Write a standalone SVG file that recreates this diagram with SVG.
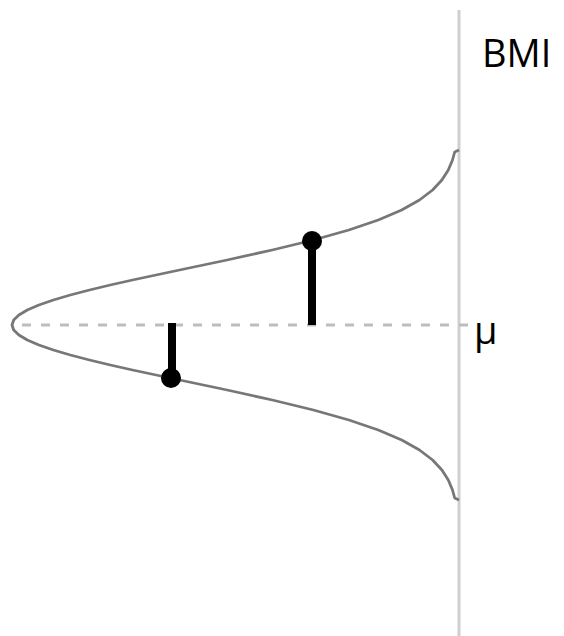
<svg xmlns="http://www.w3.org/2000/svg" width="564" height="636" viewBox="0 0 564 636">
<style>
.axis{stroke:#cfcfcf;stroke-width:3;fill:none}
.mean{stroke:#bdbdbd;stroke-width:3;stroke-dasharray:9 10;fill:none}
.curve{stroke:#777;stroke-width:2.8;fill:none;stroke-linejoin:round}
.bar{stroke:#000;stroke-width:8}
.dot{fill:#000}
.lbl{font-family:"Open Sans","Liberation Sans",sans-serif;font-size:38px;fill:#000}
</style>
<rect width="564" height="636" fill="#fff"/>
<g id="axis"><line class="axis" x1="459" y1="10" x2="459" y2="636"/></g>
<g id="mean-line"><line class="mean" x1="22" y1="325" x2="470" y2="325"/></g>
<g id="curve"><path class="curve" d="M459,150 L454.7,152 L452.5,160 L448.3,170 L441.9,180 L432.6,190 L419.5,200 L401.7,210 L378.3,220 L348.9,230 L313.4,240 L272.3,250 L227.1,260 L179.6,270 L132.5,280 L110.3,285 L89.5,290 L70.3,295 L53.4,300 L38.9,305 L27.3,310 L18.9,315 L13.7,320 L12,325 L13.7,330 L18.9,335 L27.3,340 L38.9,345 L53.4,350 L70.3,355 L89.5,360 L110.3,365 L132.5,370 L179.6,380 L227.1,390 L272.3,400 L313.4,410 L348.9,420 L378.3,430 L401.7,440 L419.5,450 L432.6,460 L441.9,470 L448.3,480 L452.5,490 L454.7,498 L459,500"/></g>
<g id="connectors">
<line class="bar" x1="312" y1="241" x2="312" y2="325"/>
<line class="bar" x1="172" y1="323" x2="172" y2="378"/>
</g>
<g id="point-upper"><circle class="dot" cx="312" cy="241" r="10"/></g>
<g id="point-lower"><circle class="dot" cx="171" cy="378" r="10"/></g>
<g id="label-bmi"><text class="lbl" x="482" y="67">BMI</text></g>
<g id="label-mu"><text class="lbl" x="474" y="344">μ</text></g>
</svg>
